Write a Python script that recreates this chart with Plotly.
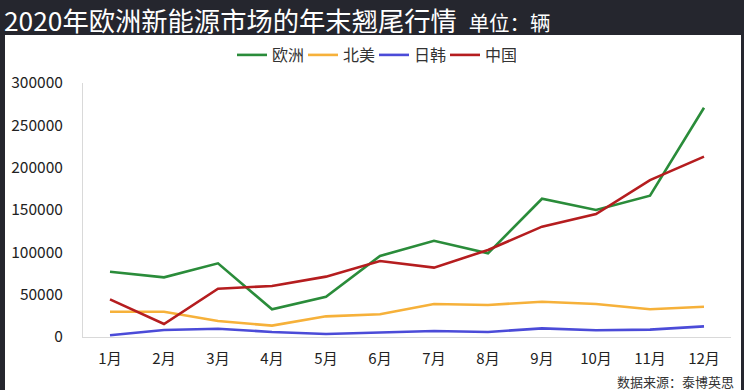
import plotly.graph_objects as go

months = ["1月", "2月", "3月", "4月", "5月", "6月", "7月", "8月", "9月", "10月", "11月", "12月"]
europe = [77000, 70500, 87000, 32700, 47600, 95700, 113700, 98800, 163300, 150000, 166900, 270800]
north_america = [29900, 29900, 18900, 13400, 24400, 26800, 39000, 37800, 41700, 39000, 32700, 35800]
japan_korea = [2000, 8300, 9800, 5900, 3500, 5500, 7100, 5900, 10200, 7900, 8700, 12600]
china = [44500, 15300, 57100, 60200, 71300, 89800, 81900, 102800, 130300, 145300, 185400, 213000]
y_ticks = [0, 50000, 100000, 150000, 200000, 250000, 300000]

series = [
    ("欧洲", europe, "#2a8c3a"),
    ("北美", north_america, "#f6b13a"),
    ("日韩", japan_korea, "#4b4bd8"),
    ("中国", china, "#b51d1f"),
]

W, H = 744, 390
L, R, T, B = 83, 13, 83, 53
PW, PH = W - L - R, H - T - B

def px(x):
    return (x - L) / PW

def py(y):
    return (H - B - y) / PH

font = "Noto Sans CJK SC, Microsoft YaHei, sans-serif"

fig = go.Figure()
for name, vals, color in series:
    fig.add_trace(go.Scatter(x=months, y=vals, name=name, mode="lines",
                             line=dict(color=color, width=2.6)))

fig.update_layout(
    width=W, height=H,
    margin=dict(l=L, r=R, t=T, b=B, autoexpand=False),
    paper_bgcolor="#25262e",
    plot_bgcolor="white",
    font=dict(family=font, size=15, color="#222"),
    showlegend=True,
    legend=dict(orientation="h", x=px(374), xanchor="center", y=py(55), yanchor="middle",
                font=dict(size=16, color="#333"), bgcolor="rgba(0,0,0,0)",
                itemwidth=30, entrywidth=26, entrywidthmode="pixels", traceorder="normal"),
    xaxis=dict(range=[-0.5, 11.5], showgrid=False, showline=True, linecolor="#d9d9d9",
               linewidth=1, ticks="", tickfont=dict(size=15, color="#222"),
               ticklabelstandoff=8, zeroline=False, fixedrange=True),
    yaxis=dict(range=[0, 300000], tickvals=y_ticks, ticktext=[str(v) for v in y_ticks],
               showgrid=False, showline=True, linecolor="#d9d9d9", linewidth=1,
               ticks="", tickfont=dict(size=15.5, color="#222"),
               ticklabelstandoff=16, zeroline=False, fixedrange=True),
    shapes=[
        dict(type="rect", xref="paper", yref="paper", x0=px(5), x1=px(741), y0=py(390), y1=py(35),
             fillcolor="white", line=dict(width=0), layer="below"),
    ],
    annotations=[
        dict(xref="paper", yref="paper", x=px(2), y=py(19), xanchor="left", yanchor="middle",
             showarrow=False,
             text="2020年欧洲新能源市场的年末翘尾行情  <span style='font-size:20.5px'>单位：辆</span>",
             font=dict(size=26.3, color="white", family=font)),
        dict(xref="paper", yref="paper", x=px(736), y=py(381), xanchor="right", yanchor="middle",
             showarrow=False, text="数据来源：泰博英思",
             font=dict(size=13, color="#333", family=font)),
    ],
)

fig.write_html(
    "out.html",
    config={"displayModeBar": False},
    post_script="document.body.style.margin='0';document.body.style.padding='0';document.body.style.overflow='hidden';",
)
